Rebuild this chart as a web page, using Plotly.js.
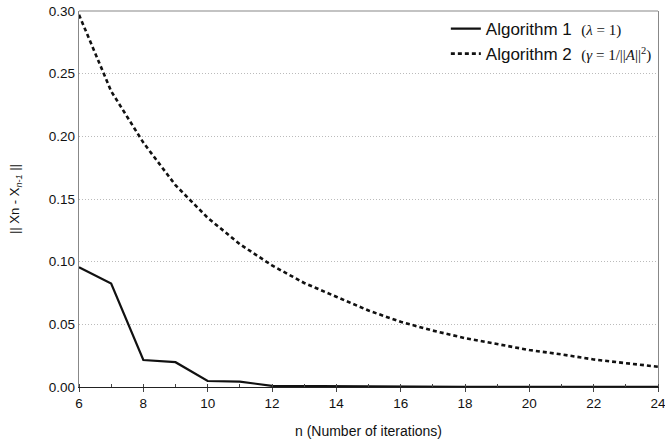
<!DOCTYPE html>
<html><head><meta charset="utf-8">
<script src="https://cdn.plot.ly/plotly-3.0.1.min.js"></script>
<style>html,body{margin:0;padding:0;background:#fff;}#chart{width:665px;height:439px;}</style>
</head><body><div id="chart"></div>
<script>
const iterations = [6,7,8,9,10,11,12,13,14,15,16,17,18,19,20,21,22,23,24];
const alg1Values = [0.0955,0.0825,0.0215,0.0198,0.0048,0.0043,0.0009,0.0007,0.0003,0.0002,0.0001,0.0001,0.0001,0.0001,0.0001,0.0001,0.0001,0.0001,0.0001];
const alg2Values = [0.297,0.236,0.195,0.161,0.135,0.114,0.097,0.083,0.072,0.061,0.052,0.045,0.039,0.034,0.0295,0.026,0.022,0.019,0.0162];
const xTicks = [6,8,10,12,14,16,18,20,22,24];
const yTicks = [0,0.05,0.10,0.15,0.20,0.25,0.30];

const serif = "font-family:'Liberation Serif','DejaVu Serif',serif;font-size:15px";
const traces = [
  {x: iterations, y: alg1Values, type:'scatter', mode:'lines',
   name: "Algorithm 1  <span style=\"" + serif + "\">(<i>λ</i> = 1)</span>",
   line:{color:'#111', width:2.2, dash:'solid'}},
  {x: iterations, y: alg2Values, type:'scatter', mode:'lines',
   name: "Algorithm 2  <span style=\"" + serif + "\">(<i>γ</i> = 1/||<i>A</i>||<sup>2</sup>)</span>",
   line:{color:'#111', width:2.6, dash:'4px,3px'}}
];
const layout = {
  width:665, height:439,
  margin:{l:79, r:7, t:11, b:52},
  paper_bgcolor:'#fff', plot_bgcolor:'#fff',
  font:{family:"'Liberation Sans', Arial, sans-serif", size:13, color:'#111'},
  showlegend:true,
  legend:{x:0.998, xanchor:'right', y:1.0, yanchor:'top', bgcolor:'rgba(0,0,0,0)',
          font:{size:17}, tracegroupgap:0, itemwidth:30},
  xaxis:{range:[6,24], tickvals:xTicks, ticktext:xTicks.map(String),
         showgrid:false, zeroline:false, showline:true, linecolor:'#222', linewidth:1.2,
         ticks:'outside', ticklen:4, tickcolor:'#444', ticklabeloverflow:'allow',
         minor:{dtick:1, tick0:6, ticks:'inside', ticklen:3, tickcolor:'#444', showgrid:false},
         title:{text:'n (Number of iterations)', font:{size:14}, standoff:16},
         tickfont:{size:13.5}},
  yaxis:{range:[0,0.30], tickvals:yTicks, ticktext:yTicks.map(v=>v.toFixed(2)),
         showgrid:true, gridcolor:'#bbb', griddash:'1px,2px', gridwidth:1,
         zeroline:false, showline:true, linecolor:'#888', linewidth:1.2, mirror:true,
         ticks:'', title:{text:'|| Xn - X<sub><i>n-1</i></sub> ||', font:{size:13}, standoff:26},
         tickfont:{size:13.5}},
  shapes:[{type:'line', xref:'paper', yref:'paper', x0:0, x1:1, y0:1, y1:1,
           line:{color:'#888', width:1.2}}]
};
Plotly.newPlot('chart', traces, layout, {displayModeBar:false, staticPlot:true});
</script></body></html>
